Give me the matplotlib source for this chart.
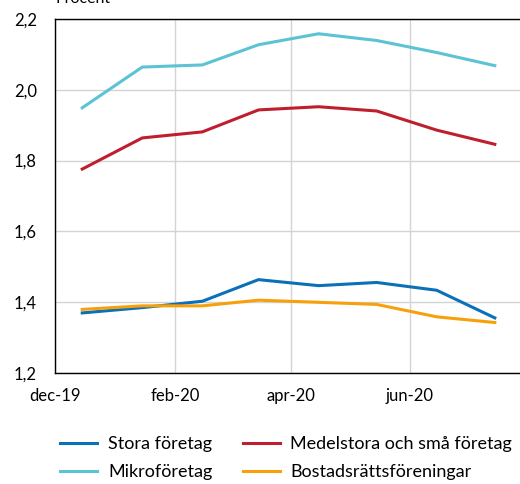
import datetime
import matplotlib
matplotlib.use("Agg")
import matplotlib.pyplot as plt
import matplotlib.ticker as mticker

plt.rcParams['font.family'] = ['Lato', 'DejaVu Sans']

# monthly values, plotted mid-month
months = [datetime.date(2019, 12, 15), datetime.date(2020, 1, 15), datetime.date(2020, 2, 15),
          datetime.date(2020, 3, 15), datetime.date(2020, 4, 15), datetime.date(2020, 5, 15),
          datetime.date(2020, 6, 15), datetime.date(2020, 7, 15)]
stora = [1.370, 1.385, 1.403, 1.464, 1.447, 1.456, 1.434, 1.356]
medel = [1.776, 1.864, 1.881, 1.943, 1.952, 1.940, 1.886, 1.846]
mikro = [1.949, 2.064, 2.070, 2.127, 2.158, 2.139, 2.105, 2.068]
bostad = [1.380, 1.390, 1.390, 1.406, 1.400, 1.394, 1.359, 1.343]

tick_dates = [datetime.date(2019, 12, 1), datetime.date(2020, 2, 1),
              datetime.date(2020, 4, 1), datetime.date(2020, 6, 1)]
tick_labels = ["dec-19", "feb-20", "apr-20", "jun-20"]
yticks = [1.2, 1.4, 1.6, 1.8, 2.0, 2.2]

fig = plt.figure(figsize=(5.2, 4.84), dpi=100)
ax = fig.add_axes([0.106, 0.229, 0.894, 0.732])

lw = 2.2
l1, = ax.plot(months, stora, color="#0A70B8", lw=lw, label="Stora företag")
l2, = ax.plot(months, mikro, color="#5BC3D3", lw=lw, label="Mikroföretag")
l3, = ax.plot(months, medel, color="#BE1E2D", lw=lw, label="Medelstora och små företag")
l4, = ax.plot(months, bostad, color="#F6A10C", lw=lw, label="Bostadsrättsföreningar")

ax.set_xlim(datetime.date(2019, 12, 1), datetime.date(2020, 7, 28))
ax.set_ylim(1.2, 2.2)
ax.set_xticks(tick_dates)
ax.set_xticklabels(tick_labels)
ax.set_yticks(yticks)
ax.yaxis.set_major_formatter(mticker.FuncFormatter(lambda v, p: f"{v:.1f}".replace(".", ",")))
ax.tick_params(length=0, labelsize=12)
ax.tick_params(axis="x", pad=11)
ax.tick_params(axis="y", pad=13)
ax.grid(True, color="#d4d4d4", lw=1)
ax.set_axisbelow(True)
for side in ["left", "bottom", "top"]:
    ax.spines[side].set_color("black")
    ax.spines[side].set_linewidth(1)
ax.spines["right"].set_visible(False)

# y-axis unit, partly above the top edge as in the original
fig.text(0.106, 0.993, "Procent", fontsize=11.5, va="baseline", ha="left")

fig.legend(handles=[l1, l2, l3, l4], ncol=2, loc="lower left",
           bbox_to_anchor=(0.085, -0.025), frameon=False, fontsize=13,
           handlelength=2.05, handletextpad=0.6, columnspacing=1.66,
           labelspacing=0.65)

fig.savefig("out.png", dpi=100)
